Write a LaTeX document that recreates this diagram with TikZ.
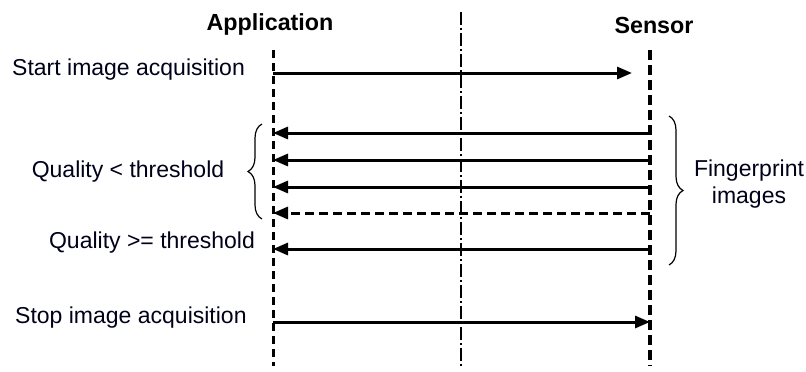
\documentclass[tikz,border=0pt]{standalone}
\usepackage{fontspec}
\setmainfont{Liberation Sans}
\usetikzlibrary{arrows.meta,decorations.pathreplacing}
\begin{document}
\begin{tikzpicture}[x=1pt,y=-1pt,
 lbl/.style={font=\fontsize{23}{27}\selectfont, inner sep=0pt, text=black!90!blue},
 head/.style={font=\bfseries\fontsize{23.3}{27}\selectfont, inner sep=0pt},
 appline/.style={line width=3pt, dash pattern=on 8pt off 5pt},
 senline/.style={line width=4.5pt, dash pattern=on 10pt off 5pt},
 midline/.style={line width=2.5pt, dash pattern=on 13pt off 3pt on 2pt off 3pt},
 msg/.style={line width=3pt, -{Triangle[length=15pt,width=12pt]}},
 brc/.style={line width=1.2pt, decorate, decoration={brace, amplitude=14pt}}
]
\useasboundingbox (0,0) rectangle (806,372);

% headers
\node[head] (app) at (270,24) {Application};
\node[head] (sen) at (654,25) {Sensor};

% lifelines
\coordinate (apptop) at (273,50);
\coordinate (appbot) at (273,366);
\coordinate (sentop) at (650,50);
\coordinate (senbot) at (650,366);
\coordinate (midtop) at (461,12);
\coordinate (midbot) at (461,366);
\draw[appline] (apptop) -- (appbot);
\draw[senline] (sentop) -- (senbot);
\draw[midline] (midtop) -- (midbot);

% message end points
\coordinate (a1) at (273,73);  \coordinate (s1) at (632,73);
\coordinate (a2) at (273,133); \coordinate (s2) at (650,133);
\coordinate (a3) at (273,160); \coordinate (s3) at (650,160);
\coordinate (a4) at (273,187); \coordinate (s4) at (650,187);
\coordinate (a5) at (273,213); \coordinate (s5) at (650,213);
\coordinate (a6) at (273,249); \coordinate (s6) at (650,249);
\coordinate (a7) at (273,322); \coordinate (s7) at (650,322);

\draw[msg] (a1) -- (s1);
\draw[msg] (s2) -- (a2);
\draw[msg] (s3) -- (a3);
\draw[msg] (s4) -- (a4);
\draw[msg, dash pattern=on 9pt off 5pt] (s5) -- (a5);
\draw[msg] (s6) -- (a6);
\draw[msg] (a7) -- (s7);

% labels
\node[lbl, anchor=west] (t1) at (12,70) {Start image acquisition};
\node[lbl] (t2) at (128,172) {Quality < threshold};
\node[lbl] (t3) at (152,243) {Quality >= threshold};
\node[lbl, anchor=west] (t4) at (15,318) {Stop image acquisition};
\node[lbl, align=center] (t5) at (749,184) {Fingerprint\\images};

% braces
\coordinate (lb1) at (262,219);
\coordinate (lb2) at (262,124);
\coordinate (rb1) at (669,116);
\coordinate (rb2) at (669,265);
\draw[brc] (lb1) -- (lb2);
\draw[brc] (rb1) -- (rb2);
\end{tikzpicture}
\end{document}
